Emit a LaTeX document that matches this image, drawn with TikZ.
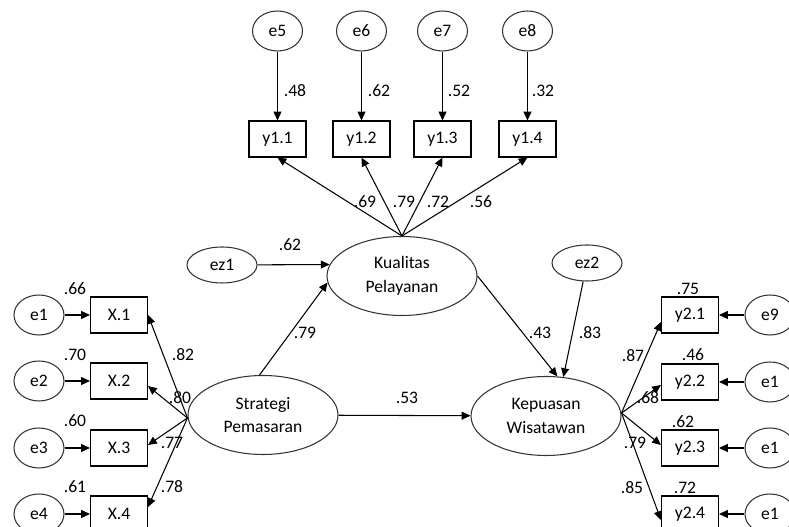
\documentclass[tikz,border=0pt]{standalone}
\usepackage{fontspec}
\setmainfont{Carlito}
\usepackage{tikz}
\usetikzlibrary{arrows.meta}
\usetikzlibrary{shapes.geometric}

\tikzset{
  err/.style={draw=black!80, ellipse, line width=0.6pt, inner sep=0cm,
              minimum width=1.0cm, minimum height=0.8cm,
              font=\fontsize{10}{12}\selectfont},
  dist/.style={err, minimum width=1.4cm, minimum height=0.72cm},
  lat/.style={draw=black!80, ellipse, line width=0.6pt, inner sep=0cm,
              minimum width=3.0cm, minimum height=1.58cm, align=center,
              font=\fontsize{10}{13.6}\selectfont},
  ind/.style={draw, rectangle, line width=0.6pt, inner sep=0cm,
              minimum width=1.14cm, minimum height=0.72cm,
              font=\fontsize{10}{12}\selectfont},
  coef/.style={inner sep=0cm, font=\fontsize{10}{12}\selectfont},
  path/.style={line width=0.6pt, -{Triangle[length=5pt,width=4.5pt]}}
}

\begin{document}
\begin{tikzpicture}
\useasboundingbox (0,0) rectangle (15.78,10.54);
\clip (0,0) rectangle (15.78,10.54);

\draw (5.26, 2.24) node[lat] (strat) {Strategi\\Pemasaran};
\draw (8.04, 5.02) node[lat] (kual) {Kualitas\\Pelayanan};
\draw (10.92, 2.22) node[lat] (kep) {Kepuasan\\Wisatawan};

\draw (4.44, 5.24) node[dist] (ez1) {ez1};
\draw (11.74, 5.28) node[dist] (ez2) {ez2};

\draw (5.55, 9.92) node[err] (e5) {e5};
\draw (7.23, 9.92) node[err] (e6) {e6};
\draw (8.85, 9.92) node[err] (e7) {e7};
\draw (10.55, 9.92) node[err] (e8) {e8};
\draw (5.55, 7.76) node[ind] (y11) {y1.1};
\draw (7.23, 7.76) node[ind] (y12) {y1.2};
\draw (8.85, 7.76) node[ind] (y13) {y1.3};
\draw (10.55, 7.76) node[ind] (y14) {y1.4};

\draw (0.78, 4.24) node[err] (e1) {e1};
\draw (0.78, 2.92) node[err] (e2) {e2};
\draw (0.78, 1.58) node[err] (e3) {e3};
\draw (0.78, 0.26) node[err] (e4) {e4};
\draw (2.38, 4.24) node[ind] (x1) {X.1};
\draw (2.38, 2.92) node[ind] (x2) {X.2};
\draw (2.38, 1.58) node[ind] (x3) {X.3};
\draw (2.38, 0.26) node[ind] (x4) {X.4};

\draw (15.40, 4.24) node[err] (e9) {e9};
\draw (15.40, 2.90) node[err] (e10) {e1};
\draw (15.40, 1.58) node[err] (e11) {e1};
\draw (15.40, 0.26) node[err] (e12) {e1};
\draw (13.80, 4.24) node[ind] (y21) {y2.1};
\draw (13.80, 2.90) node[ind] (y22) {y2.2};
\draw (13.80, 1.58) node[ind] (y23) {y2.3};
\draw (13.80, 0.26) node[ind] (y24) {y2.4};

\draw[path] (e5) -- (y11);
\draw[path] (e6) -- (y12);
\draw[path] (e7) -- (y13);
\draw[path] (e8) -- (y14);
\draw[path] (kual.north) -- (y11.south);
\draw[path] (kual.north) -- (y12.south);
\draw[path] (kual.north) -- (y13.south);
\draw[path] (kual.north) -- (y14.south);

\draw[path] (e1) -- (x1);
\draw[path] (e2) -- (x2);
\draw[path] (e3) -- (x3);
\draw[path] (e4) -- (x4);
\draw[path] ([yshift=-0.06cm]strat.west) -- (x1.east);
\draw[path] ([yshift=-0.06cm]strat.west) -- ([yshift=-0.1cm]x2.east);
\draw[path] ([yshift=-0.06cm]strat.west) -- ([yshift=0.06cm]x3.east);
\draw[path] ([yshift=-0.06cm]strat.west) -- ([yshift=0.14cm]x4.east);

\draw[path] (e9) -- (y21);
\draw[path] (e10) -- (y22);
\draw[path] (e11) -- (y23);
\draw[path] (e12) -- (y24);
\draw[path] ([yshift=0.06cm]kep.east) -- ([yshift=-0.14cm]y21.west);
\draw[path] ([yshift=0.06cm]kep.east) -- ([yshift=-0.06cm]y22.west);
\draw[path] ([yshift=0.06cm]kep.east) -- ([yshift=0.06cm]y23.west);
\draw[path] ([yshift=0.06cm]kep.east) -- ([yshift=-0.12cm]y24.west);

\draw[path] (ez1) -- (kual.171);
\draw[path] (strat.95) -- (kual.185);
\draw[path] (strat) -- (kep);
\draw[path] (kual.east) -- (kep.74);
\draw[path] (ez2) -- (kep.66);

\draw (5.90, 8.72) node[coef] {.48};
\draw (7.58, 8.72) node[coef] {.62};
\draw (9.18, 8.72) node[coef] {.52};
\draw (10.86, 8.72) node[coef] {.32};
\draw (7.30, 6.50) node[coef] {.69};
\draw (8.08, 6.50) node[coef] {.79};
\draw (8.76, 6.50) node[coef] {.72};
\draw (9.62, 6.50) node[coef] {.56};

\draw (5.80, 5.64) node[coef] {.62};
\draw (6.10, 3.88) node[coef] {.79};
\draw (8.14, 2.58) node[coef] {.53};
\draw (10.80, 3.88) node[coef] {.43};
\draw (11.80, 3.88) node[coef] {.83};

\draw (1.50, 4.76) node[coef] {.66};
\draw (1.50, 3.44) node[coef] {.70};
\draw (1.50, 2.12) node[coef] {.60};
\draw (1.50, 0.80) node[coef] {.61};
\draw (3.66, 3.44) node[coef] {.82};
\draw (3.60, 2.58) node[coef] {.80};
\draw (3.44, 1.68) node[coef] {.77};
\draw (3.44, 0.80) node[coef] {.78};

\draw (13.76, 4.76) node[coef] {.75};
\draw (13.86, 3.44) node[coef] {.46};
\draw (13.66, 2.10) node[coef] {.62};
\draw (13.70, 0.78) node[coef] {.72};
\draw (12.66, 3.42) node[coef] {.87};
\draw (12.96, 2.58) node[coef] {.68};
\draw (12.70, 1.68) node[coef] {.79};
\draw (12.64, 0.78) node[coef] {.85};
\end{tikzpicture}
\end{document}
